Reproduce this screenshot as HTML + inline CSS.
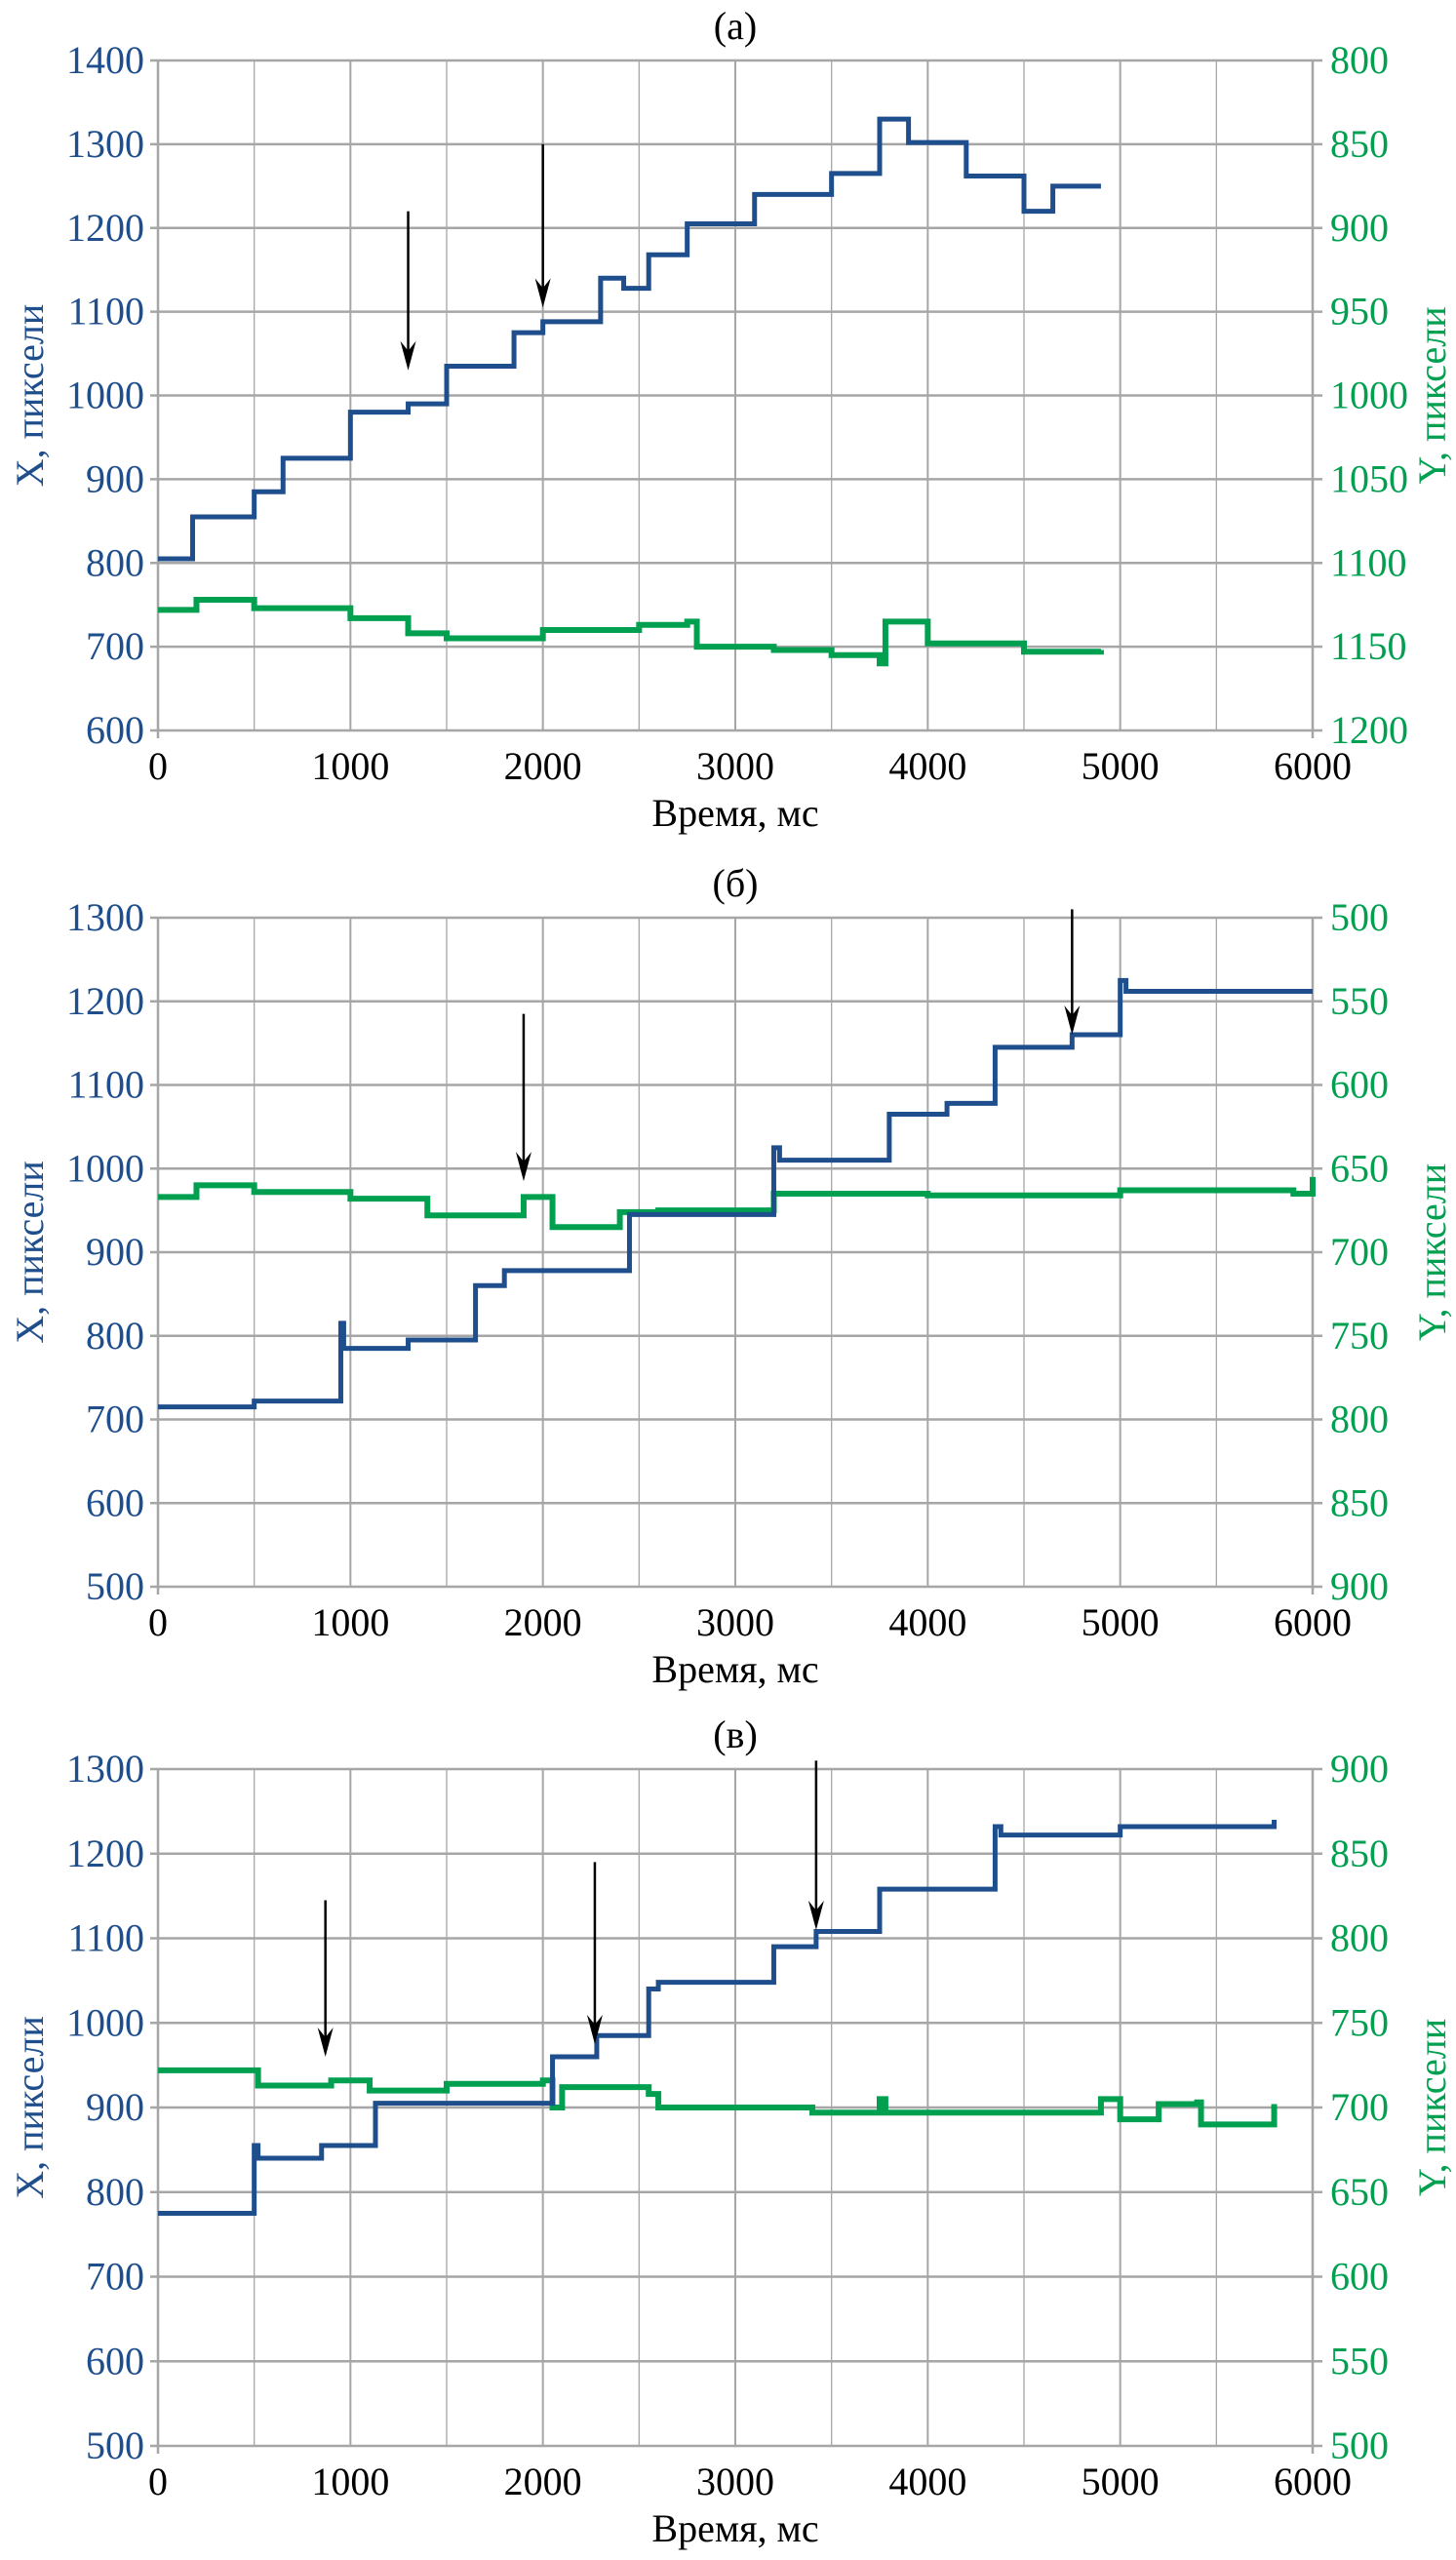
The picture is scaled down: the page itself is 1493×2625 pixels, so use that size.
<!DOCTYPE html>
<html><head><meta charset="utf-8"><style>
html,body{margin:0;padding:0;background:#fff}
text{font-family:"Liberation Serif","DejaVu Serif",serif}
</style></head><body>
<svg id="s" width="1493" height="2620" xmlns="http://www.w3.org/2000/svg" font-family="'Liberation Serif', 'DejaVu Serif', serif"></svg>
<script>
// ---- data ----
const xTicks = [0,1000,2000,3000,4000,5000,6000];
const aLeftTicks = [600,700,800,900,1000,1100,1200,1300,1400];
const aRightTicks = [1200,1150,1100,1050,1000,950,900,850,800];
const bLeftTicks = [500,600,700,800,900,1000,1100,1200,1300];
const bRightTicks = [900,850,800,750,700,650,600,550,500];
const cLeftTicks = [500,600,700,800,900,1000,1100,1200,1300];
const cRightTicks = [500,550,600,650,700,750,800,850,900];

const aXt = [0,180,500,650,1000,1300,1500,1850,2000,2300,2420,2550,2750,3100,3500,3750,3900,4200,4500,4650,4900];
const aXv = [805,855,885,925,980,990,1035,1075,1088,1140,1128,1168,1205,1240,1265,1330,1302,1262,1220,1250,1250];
const aYt = [0,200,500,1000,1300,1500,2000,2500,2750,2800,3200,3500,3750,3780,4000,4500,4900];
const aYv = [1128,1122,1127,1133,1142,1145,1140,1137,1135,1150,1152,1155,1160,1135,1148,1153,1152];

const bXt = [0,500,950,965,1300,1650,1800,2450,3200,3230,3800,4100,4350,4750,5000,5030,6000];
const bXv = [715,722,815,785,795,860,878,945,1025,1010,1065,1078,1145,1160,1225,1212,1212];
const bYt = [0,200,500,1000,1400,1900,2050,2400,2600,3200,4000,5000,5900,6000];
const bYv = [667,660,664,668,678,667,685,676,675,665,666,663,665,655];

const cXt = [0,500,520,850,1130,1600,2050,2280,2550,2600,3200,3420,3750,4350,4380,5000,5800];
const cXv = [775,855,840,855,905,905,960,985,1040,1048,1090,1108,1158,1232,1222,1232,1240];
const cYt = [0,500,520,900,1100,1500,2000,2050,2100,2550,2600,3400,3750,3780,4500,4900,5000,5200,5400,5420,5750,5800];
const cYv = [722,722,713,716,710,714,716,700,712,708,700,697,705,697,697,705,693,702,703,690,690,702];

const aArrows = [[1300,1220,1030],[2000,1300,1105]];
const bArrows = [[1900,1185,985],[4750,1310,1160]];
const cArrows = [[870,1145,960],[2270,1190,975],[3420,1310,1110]];

const NS="http://www.w3.org/2000/svg";
const svg=document.getElementById('s');
const FONT="'Liberation Serif', 'DejaVu Serif', serif";
function mk(tag,attrs,parent){const e=document.createElementNS(NS,tag);for(const k in attrs)e.setAttribute(k,attrs[k]);if(tag==='text')e.setAttribute('font-family',FONT);(parent||svg).appendChild(e);return e;}
const BLUE="#1f4e8c",GREEN="#00a050",GRID="#a6a6a6";
const L=162,R=1346;

function chart(cfg){
  const g=mk('g',{});
  
  
  const T=cfg.top,B=cfg.bottom;
  const sx=t=>L+(t-0)/6000*(R-L);
  const syL=v=>B-(v-cfg.lmin)/(cfg.lmax-cfg.lmin)*(B-T);
  const syR=v=>B-(v-cfg.rBottom)/(cfg.rTop-cfg.rBottom)*(B-T);
  for(let t=500;t<=6000;t+=500){const l=mk('line',{x1:sx(t),x2:sx(t),y1:T,y2:B,stroke:GRID,'stroke-width':t%1000?1.3:2},g);}
  cfg.lt.forEach(v=>{const l=mk('line',{x1:L-8,x2:R+10,y1:syL(v),y2:syL(v),stroke:GRID,'stroke-width':2.5},g);});
  const ax=mk('line',{x1:L,x2:L,y1:T,y2:B+8,stroke:GRID,'stroke-width':2.5},g);
  const ax2=mk('line',{x1:R,x2:R,y1:T,y2:B+8,stroke:GRID,'stroke-width':2.5},g);
  xTicks.forEach(t=>{const tx=mk('text',{x:sx(t),y:B+50,'text-anchor':'middle','font-size':40,fill:'#000'},g);tx.textContent=t;});
  cfg.lt.forEach(v=>{const tx=mk('text',{x:L-14,y:syL(v)+13,'text-anchor':'end','font-size':40,fill:BLUE},g);tx.textContent=v;});
  cfg.rt.forEach(v=>{const tx=mk('text',{x:R+18,y:syR(v)+13,'text-anchor':'start','font-size':40,fill:GREEN},g);tx.textContent=v;});
  const xl=mk('text',{x:(L+R)/2,y:B+98,'text-anchor':'middle','font-size':40,fill:'#000'},g);xl.textContent='Время, мс';
  const cy=(T+B)/2;
  const yl=mk('text',{x:0,y:0,'text-anchor':'middle','font-size':40,fill:BLUE,transform:`translate(44,${cy}) rotate(-90)`},g);yl.textContent='X, пиксели';
  const yr=mk('text',{x:0,y:0,'text-anchor':'middle','font-size':40,fill:GREEN,transform:`translate(1482,${cy}) rotate(-90)`},g);yr.textContent='Y, пиксели';
  const ti=mk('text',{x:(L+R)/2,y:T-22,'text-anchor':'middle','font-size':40,fill:'#000'},g);ti.textContent=cfg.title;
  function steps(ts,vs,fy){let d='';for(let i=0;i<ts.length;i++){const x=sx(ts[i]),y=fy(vs[i]);if(i==0)d+=`M${x},${y}`;else d+=`H${x}V${y}`;}return d;}
  const gp=mk('path',{d:steps(cfg.yt,cfg.yv,syR),fill:'none',stroke:GREEN,'stroke-width':6},g);
  const bp=mk('path',{d:steps(cfg.xt,cfg.xv,syL),fill:'none',stroke:BLUE,'stroke-width':5},g);
  cfg.arrows.forEach(a=>{const x=sx(a[0]),y1=syL(a[1]),y2=syL(a[2]);
    const ar=mk('g',{},g);
    mk('line',{x1:x,x2:x,y1:y1,y2:y2-10,stroke:'#000','stroke-width':2.5},ar);
    mk('path',{d:`M${x-8},${y2-30}L${x},${y2}L${x+8},${y2-30}L${x},${y2-20}Z`,fill:'#000'},ar);});
}
chart({name:'chart-a',title:'(a)',top:62,bottom:749,lmin:600,lmax:1400,rTop:800,rBottom:1200,lt:aLeftTicks,rt:aRightTicks,xt:aXt,xv:aXv,yt:aYt,yv:aYv,arrows:aArrows});
chart({name:'chart-b',title:'(б)',top:941,bottom:1627,lmin:500,lmax:1300,rTop:500,rBottom:900,lt:bLeftTicks,rt:bRightTicks,xt:bXt,xv:bXv,yt:bYt,yv:bYv,arrows:bArrows});
chart({name:'chart-c',title:'(в)',top:1814,bottom:2508,lmin:500,lmax:1300,rTop:900,rBottom:500,lt:cLeftTicks,rt:cRightTicks,xt:cXt,xv:cXv,yt:cYt,yv:cYv,arrows:cArrows});
</script>
</body></html>
